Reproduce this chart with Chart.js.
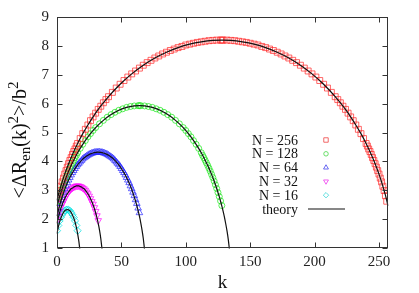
<!DOCTYPE html>
<html>
<head>
<meta charset="utf-8">
<script src="https://cdn.jsdelivr.net/npm/chart.js@4.4.1/dist/chart.umd.min.js"></script>
<style>
    html, body { margin: 0; padding: 0; background: #fff; }
    #chart { display: block; }
</style>
</head>
<body>
<canvas id="chart" width="419" height="293"></canvas>
<script>
// tick labels
const xTicks = [0, 50, 100, 150, 200, 250];
const yTicks = [1, 2, 3, 4, 5, 6, 7, 8, 9];
const seriesLabels = ['N = 256', 'N = 128', 'N = 64', 'N = 32', 'N = 16'];
const theoryLabel = 'theory';

// simulation points, [k, value]
const sim256 = [
    [0,2.72],[1,2.86],[2,2.99],[3,3.14],[4,3.29],[5,3.42],[6,3.56],[7,3.68],[8,3.80],[9,3.92],
    [10,4.03],[11,4.13],[12,4.24],[13,4.34],[14,4.43],[15,4.53],[16,4.62],[18,4.79],[20,4.96],
    [22,5.11],[24,5.26],[26,5.41],[28,5.54],[30,5.67],[32,5.80],[34,5.91],[36,6.03],[38,6.14],
    [40,6.24],[43,6.39],[46,6.54],[49,6.67],[52,6.80],[55,6.92],[58,7.03],[61,7.13],[64,7.23],
    [67,7.33],[70,7.42],[73,7.50],[76,7.58],[79,7.65],[82,7.72],[85,7.78],[88,7.84],[91,7.89],
    [94,7.94],[97,7.98],[100,8.03],[103,8.06],[106,8.09],[109,8.12],[112,8.14],[115,8.16],
    [118,8.18],[121,8.19],[124,8.20],[127,8.20],[128,8.20],[129,8.20],[132,8.20],[135,8.19],
    [138,8.18],[141,8.16],[144,8.14],[147,8.12],[150,8.09],[153,8.06],[156,8.03],[159,7.98],
    [162,7.94],[165,7.89],[168,7.84],[171,7.78],[174,7.72],[177,7.65],[180,7.58],[183,7.50],
    [186,7.42],[189,7.33],[192,7.23],[195,7.13],[198,7.03],[201,6.92],[204,6.80],[207,6.67],
    [210,6.54],[213,6.39],[216,6.24],[218,6.14],[220,6.03],[222,5.91],[224,5.80],[226,5.67],
    [228,5.54],[230,5.41],[232,5.26],[234,5.11],[236,4.96],[238,4.79],[240,4.62],[241,4.53],
    [242,4.43],[243,4.34],[244,4.24],[245,4.13],[246,4.03],[247,3.92],[248,3.80],[249,3.68],
    [250,3.56],[251,3.42],[252,3.29],[253,3.14],[254,2.99],[255,2.81],[256,2.62]
];
const sim128 = [
    [0,2.47],[1,2.63],[2,2.78],[3,2.92],[4,3.06],[5,3.19],[6,3.32],[7,3.44],[8,3.55],[9,3.66],
    [10,3.76],[11,3.86],[12,3.95],[13,4.04],[14,4.13],[15,4.21],[16,4.30],[18,4.45],[20,4.59],
    [22,4.72],[24,4.85],[26,4.96],[28,5.07],[30,5.17],[33,5.30],[36,5.42],[39,5.53],[42,5.62],
    [45,5.70],[48,5.77],[51,5.82],[54,5.87],[57,5.90],[60,5.92],[63,5.93],[64,5.93],[65,5.93],
    [68,5.92],[71,5.90],[74,5.87],[77,5.82],[80,5.77],[83,5.70],[86,5.62],[89,5.53],[92,5.42],
    [95,5.30],[98,5.17],[100,5.07],[102,4.96],[104,4.85],[106,4.72],[108,4.59],[110,4.45],
    [112,4.30],[113,4.21],[114,4.13],[115,4.04],[116,3.95],[117,3.86],[118,3.76],[119,3.66],
    [120,3.55],[121,3.44],[122,3.32],[123,3.19],[124,3.06],[125,2.92],[126,2.78],[127,2.63],[128,2.47]
];
// value at k = 0, 1, 2, ...
const sim64 = [
    2.22,2.38,2.54,2.67,2.81,2.93,3.05,3.15,3.26,3.35,3.44,3.53,3.61,3.68,3.75,3.82,3.88,
    3.93,3.98,4.03,4.08,4.12,4.15,4.18,4.21,4.24,4.26,4.28,4.29,4.31,4.31,4.32,4.32,
    4.32,4.31,4.31,4.29,4.28,4.26,4.24,4.21,4.18,4.15,4.12,4.08,4.03,3.98,3.93,3.88,
    3.82,3.75,3.68,3.61,3.53,3.44,3.35,3.26,3.15,3.05,2.93,2.81,2.67,2.54,2.38,2.22
];
const sim32 = [
    1.95,2.12,2.27,2.40,2.52,2.61,2.71,2.80,2.88,2.94,3.00,3.05,3.08,3.11,3.13,3.15,3.15,
    3.15,3.13,3.11,3.08,3.05,3.00,2.94,2.88,2.80,2.71,2.61,2.52,2.40,2.27,2.12,1.95
];
const sim16 = [
    1.60,1.78,1.94,2.06,2.15,2.23,2.29,2.32,2.33,2.32,2.29,2.23,2.15,2.06,1.94,1.78,1.60
];

// theory curves, [k, value]
const theory256 = [
    [0,2.65],[1,2.83],[2,2.99],[3,3.14],[4,3.29],[6,3.56],[8,3.80],[10,4.03],[12,4.24],[16,4.62],
    [20,4.96],[24,5.26],[28,5.54],[32,5.80],[40,6.24],[49,6.67],[58,7.03],[67,7.33],[76,7.58],
    [85,7.78],[94,7.94],[103,8.06],[112,8.14],[121,8.19],[128,8.20],[135,8.19],[144,8.14],
    [153,8.06],[162,7.94],[171,7.78],[180,7.58],[189,7.33],[198,7.03],[207,6.67],[216,6.24],
    [224,5.80],[228,5.54],[232,5.26],[236,4.96],[240,4.62],[244,4.24],[246,4.03],[248,3.80],
    [250,3.56],[252,3.29],[253,3.14],[254,2.99],[255,2.83],[256,2.65],[257,2.46]
];
const theory128 = [
    [0,2.45],[1,2.62],[2,2.78],[3,2.92],[4,3.06],[6,3.32],[8,3.55],[10,3.76],[12,3.95],[16,4.30],
    [20,4.59],[24,4.85],[30,5.17],[36,5.42],[42,5.62],[48,5.77],[54,5.87],[60,5.92],[64,5.93],
    [68,5.92],[74,5.87],[80,5.77],[86,5.62],[92,5.42],[98,5.17],[104,4.85],[108,4.59],[112,4.30],
    [116,3.95],[118,3.76],[120,3.55],[122,3.32],[124,3.06],[125,2.92],[126,2.78],[127,2.62],
    [128,2.45],[129,2.27],[130,2.07],[131,1.84],[132,1.59],[133,1.29],[134,0.90]
];
const theory64 = [
    [0,2.10],[1,2.29],[2,2.47],[3,2.62],[4,2.77],[5,2.90],[6,3.03],[8,3.25],[10,3.44],[12,3.61],
    [14,3.75],[16,3.88],[18,3.98],[20,4.08],[22,4.15],[24,4.21],[26,4.26],[28,4.29],[30,4.31],
    [32,4.32],[34,4.31],[36,4.29],[38,4.26],[40,4.21],[42,4.15],[44,4.08],[46,3.98],[48,3.88],
    [50,3.75],[52,3.61],[54,3.44],[56,3.25],[58,3.03],[59,2.90],[60,2.77],[61,2.62],[62,2.47],
    [63,2.29],[64,2.10],[65,1.88],[66,1.63],[67,1.33],[68,0.93]
];
const theory32 = [
    [0,1.85],[1,2.05],[2,2.22],[3,2.37],[4,2.50],[5,2.61],[6,2.71],[7,2.80],[8,2.88],[9,2.94],
    [10,3.00],[11,3.05],[12,3.08],[13,3.11],[14,3.13],[15,3.15],[16,3.15],[17,3.15],[18,3.13],
    [19,3.11],[20,3.08],[21,3.05],[22,3.00],[23,2.94],[24,2.88],[25,2.80],[26,2.71],[27,2.61],
    [28,2.50],[29,2.37],[30,2.22],[31,2.05],[32,1.85],[33,1.62],[34,1.33],[35,0.94]
];
const theory16 = [
    [0,1.50],[1,1.72],[2,1.90],[3,2.04],[4,2.14],[5,2.23],[6,2.29],[7,2.32],[8,2.33],[9,2.32],
    [10,2.29],[11,2.23],[12,2.14],[13,2.04],[14,1.90],[15,1.72],[16,1.50],[17,1.22],[18,0.84]
];

const serif = 'Liberation Serif, Times New Roman, serif';

function fromPairs(list) {
    return list.map(function (d) { return { x: d[0], y: d[1] }; });
}

function fromValues(list) {
    return list.map(function (v, k) { return { x: k, y: v }; });
}

const markerStyles = [
    { color: 'rgba(255, 40, 40, 0.7)', key: 'rgba(240, 90, 90, 0.9)', shape: 'rect', radius: 4.2, rotation: 0 },
    { color: 'rgba(20, 230, 20, 0.7)', key: 'rgba(90, 220, 90, 0.9)', shape: 'circle', radius: 3.0, rotation: 0 },
    { color: 'rgba(40, 40, 255, 0.7)', key: 'rgba(90, 90, 240, 0.9)', shape: 'triangle', radius: 3.8, rotation: 0 },
    { color: 'rgba(255, 0, 255, 0.7)', key: 'rgba(240, 80, 240, 0.9)', shape: 'triangle', radius: 3.8, rotation: 180 },
    { color: 'rgba(0, 225, 225, 0.75)', key: 'rgba(80, 220, 220, 0.9)', shape: 'rectRot', radius: 3.6, rotation: 0 }
];

const simData = [fromPairs(sim256), fromPairs(sim128), fromValues(sim64), fromValues(sim32), fromValues(sim16)];
const theoryData = [theory256, theory128, theory64, theory32, theory16].map(fromPairs);

const datasets = [];
theoryData.forEach(function (d) {
    datasets.push({
        type: 'line',
        data: d,
        showLine: true,
        borderColor: '#111',
        borderWidth: 1.2,
        pointRadius: 0,
        pointHoverRadius: 0,
        cubicInterpolationMode: 'monotone',
        fill: false,
        clip: 0.5,
        order: 0
    });
});
simData.forEach(function (d, i) {
    const s = markerStyles[i];
    datasets.push({
        type: 'scatter',
        label: seriesLabels[i],
        data: d,
        showLine: false,
        pointStyle: s.shape,
        pointRadius: s.radius,
        pointRotation: s.rotation,
        pointBorderWidth: 1,
        pointBorderColor: s.color,
        pointBackgroundColor: 'rgba(0,0,0,0)',
        order: 1
    });
});

// frame with inward ticks, axis titles and the key
const decorations = {
    id: 'decorations',
    afterDraw: function (chart) {
        const ctx = chart.ctx;
        const a = chart.chartArea;
        const xs = chart.scales.x;
        const ys = chart.scales.y;
        const L = Math.round(a.left) + 0.5, R = Math.round(a.right) - 0.5;
        const T = Math.round(a.top) + 0.5, B = Math.round(a.bottom) - 0.5;
        ctx.save();
        ctx.strokeStyle = '#333';
        ctx.lineWidth = 1;
        ctx.beginPath();
        xTicks.forEach(function (v) {
            const px = Math.round(xs.getPixelForValue(v)) + 0.5;
            ctx.moveTo(px, B); ctx.lineTo(px, B - 5);
            ctx.moveTo(px, T); ctx.lineTo(px, T + 5);
        });
        yTicks.forEach(function (v) {
            const py = Math.round(ys.getPixelForValue(v)) + 0.5;
            ctx.moveTo(L, py); ctx.lineTo(L + 5, py);
            ctx.moveTo(R, py); ctx.lineTo(R - 5, py);
        });
        ctx.stroke();
        ctx.strokeRect(L, T, R - L, B - T);

        // key
        const rowY = [140, 153.8, 167.6, 181.4, 195.2, 209];
        ctx.fillStyle = '#111';
        ctx.font = '14px ' + serif;
        ctx.textAlign = 'right';
        ctx.textBaseline = 'middle';
        seriesLabels.forEach(function (lab, i) {
            ctx.fillText(lab, 298, rowY[i] + 1);
            const s = markerStyles[i];
            ctx.strokeStyle = s.key;
            ctx.fillStyle = 'rgba(0,0,0,0)';
            Chart.helpers.drawPoint(ctx, {
                pointStyle: s.shape, radius: s.radius * 0.75, rotation: s.rotation, borderWidth: 1
            }, 326, rowY[i]);
            ctx.fillStyle = '#111';
        });
        ctx.fillText(theoryLabel, 298, rowY[5] + 1);
        ctx.strokeStyle = '#111';
        ctx.lineWidth = 1.2;
        ctx.beginPath();
        ctx.moveTo(308, rowY[5]);
        ctx.lineTo(345, rowY[5]);
        ctx.stroke();

        // x title
        ctx.fillStyle = '#111';
        ctx.textAlign = 'center';
        ctx.textBaseline = 'alphabetic';
        ctx.font = '19px ' + serif;
        ctx.fillText('k', (a.left + a.right) / 2, 288);

        // y title with sub- and superscripts
        const parts = [
            ['<ΔR', 0, 20], ['en', 4, 15], ['(k)', 0, 20], ['2', -8, 15],
            ['>/b', 0, 20], ['2', -8, 15]
        ];
        let total = 0;
        parts.forEach(function (p) {
            ctx.font = p[2] + 'px ' + serif;
            total += ctx.measureText(p[0]).width;
        });
        ctx.translate(25.5, 140);
        ctx.rotate(-Math.PI / 2);
        ctx.textAlign = 'left';
        let pos = -total / 2;
        parts.forEach(function (p) {
            ctx.font = p[2] + 'px ' + serif;
            ctx.fillText(p[0], pos, p[1]);
            pos += ctx.measureText(p[0]).width;
        });
        ctx.restore();
    }
};

new Chart(document.getElementById('chart'), {
    type: 'scatter',
    data: { datasets: datasets },
    options: {
        responsive: false,
        animation: false,
        devicePixelRatio: 1,
        events: [],
        layout: { padding: { left: 0, right: 31, top: 16, bottom: 0 } },
        plugins: {
            legend: { display: false },
            tooltip: { enabled: false }
        },
        scales: {
            x: {
                type: 'linear',
                min: 0,
                max: 257,
                grid: { display: false, drawTicks: false },
                border: { display: false },
                afterBuildTicks: function (scale) {
                    scale.ticks = xTicks.map(function (v) { return { value: v }; });
                },
                afterFit: function (scale) { scale.height = 45; },
                ticks: {
                    padding: 5,
                    color: '#222',
                    autoSkip: false,
                    maxRotation: 0,
                    font: { family: serif, size: 15 }
                }
            },
            y: {
                type: 'linear',
                min: 1,
                max: 9,
                grid: { display: false, drawTicks: false },
                border: { display: false },
                afterBuildTicks: function (scale) {
                    scale.ticks = yTicks.map(function (v) { return { value: v }; });
                },
                afterFit: function (scale) { scale.width = 57; },
                ticks: {
                    padding: 8,
                    color: '#222',
                    font: { family: serif, size: 15 }
                }
            }
        }
    },
    plugins: [decorations]
});
</script>
</body>
</html>
